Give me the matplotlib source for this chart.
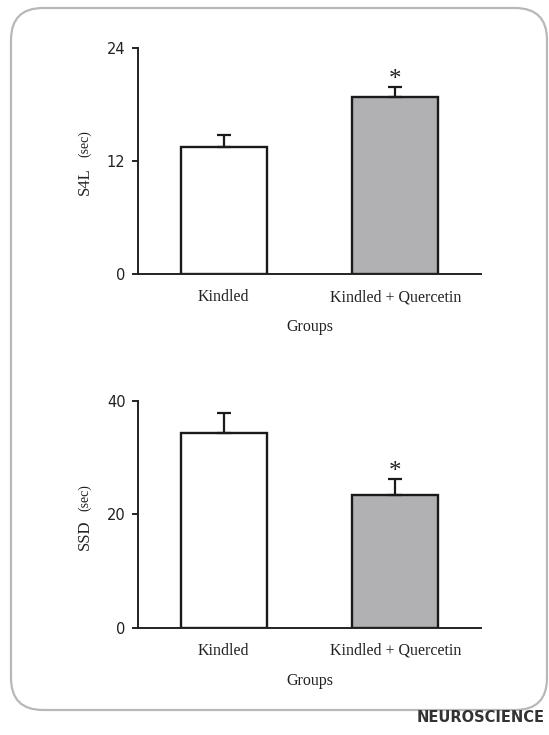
import matplotlib
matplotlib.use("Agg")
import matplotlib.pyplot as plt
from matplotlib.patches import FancyBboxPatch

groups = ["Kindled", "Kindled + Quercetin"]
s4l_mean = [13.5, 18.8]
s4l_err = [1.3, 1.1]
ssd_mean = [34.3, 23.5]
ssd_err = [3.5, 2.7]
bar_colors = ["white", "#b1b1b4"]
s4l_ticks = [0, 12, 24]
ssd_ticks = [0, 20, 40]

W, H = 549, 735
fig = plt.figure(figsize=(W / 100, H / 100), dpi=100)
fig.patch.set_facecolor("white")

# background axes in pixel coordinates for the rounded frame and logo
bg = fig.add_axes([0, 0, 1, 1])
bg.set_xlim(0, W)
bg.set_ylim(H, 0)
bg.axis("off")
frame = FancyBboxPatch((11, 8), 536, 702, boxstyle="round,pad=0,rounding_size=32",
                       facecolor="none", edgecolor="#b8b8b8", linewidth=1.6)
bg.add_patch(frame)
bg.text(545, 718, "NEUROSCIENCE", fontsize=10.5, fontweight="bold",
        color="#333333", family="DejaVu Sans", va="center", ha="right")

serif = ["Liberation Serif", "DejaVu Serif"]

def panel(rect, means, errs, ticks, ylab_main, star_idx):
    ax = fig.add_axes(rect)
    x = list(range(len(groups)))
    ax.bar(x, means, width=0.5, color=bar_colors, edgecolor="#1a1a1a",
           linewidth=1.7, zorder=2)
    for i in x:
        ax.errorbar(i, means[i], yerr=[[0], [errs[i]]], fmt="none",
                    ecolor="#1a1a1a", elinewidth=1.6, capsize=5, capthick=1.6,
                    zorder=3)
    top = means[star_idx] + errs[star_idx]
    ax.annotate("*", (star_idx, top), xytext=(0, 5), textcoords="offset points",
                ha="center", va="center", fontsize=18, family=serif,
                color="#222222")
    ax.set_xlim(-0.5, 1.5)
    ax.set_ylim(0, ticks[-1])
    ax.set_yticks(ticks)
    ax.set_yticklabels([str(t) for t in ticks], fontsize=10.5, color="#222222",
                       family="DejaVu Sans")
    ax.set_xticks(x)
    ax.set_xticklabels(groups, fontsize=11.5, family=serif, color="#222222")
    ax.tick_params(axis="x", length=0, pad=11)
    ax.tick_params(axis="y", length=4, width=1.2, direction="out", pad=5)
    for s in ["top", "right"]:
        ax.spines[s].set_visible(False)
    for s in ["left", "bottom"]:
        ax.spines[s].set_linewidth(1.4)
        ax.spines[s].set_color("#222222")
    ax.set_xlabel("Groups", fontsize=11.5, family=serif, labelpad=10, color="#222222")
    xl = -53 / (343)
    ax.text(xl, 0.41, ylab_main, rotation=90, transform=ax.transAxes,
            ha="center", va="center", fontsize=12, family=serif, color="#222222")
    ax.text(xl, 0.575, "(sec)", rotation=90, transform=ax.transAxes,
            ha="center", va="center", fontsize=10, family=serif, color="#222222")
    ax.set_facecolor("none")
    return ax

panel([138/W, 1 - 274/H, 343/W, 226/H], s4l_mean, s4l_err, s4l_ticks, "S4L", 1)
panel([138/W, 1 - 627.7/H, 343/W, 226.7/H], ssd_mean, ssd_err, ssd_ticks, "SSD", 1)

fig.savefig("out.png", dpi=100, facecolor="white")
